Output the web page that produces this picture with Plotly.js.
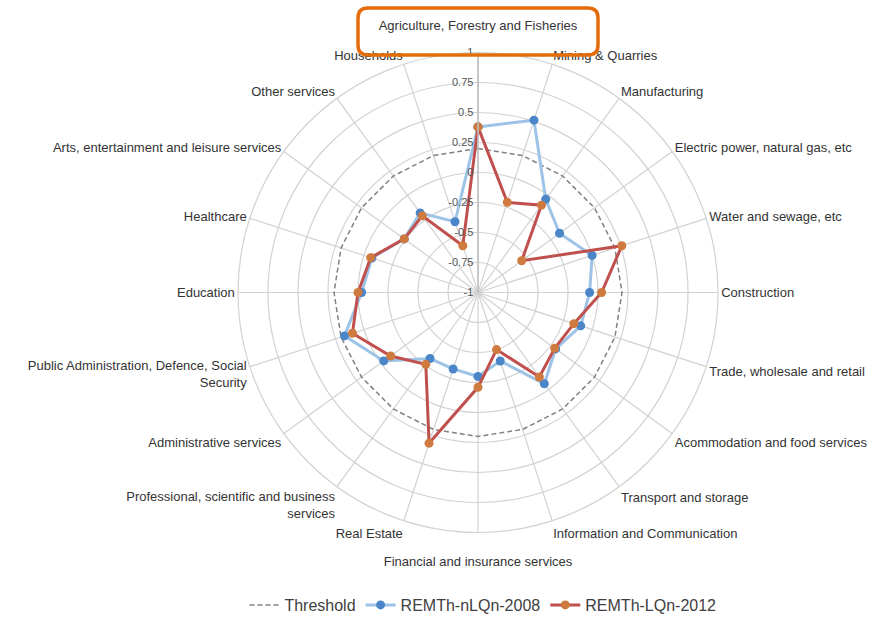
<!DOCTYPE html>
<html>
<head>
<meta charset="utf-8">
<script src="https://cdn.plot.ly/plotly-3.0.1.min.js"></script>
<style>html,body{margin:0;padding:0;background:#fff;}#chart{width:891px;height:622px;}</style>
</head>
<body>
<div id="chart"></div>
<script>
const categories = [
  "Agriculture, Forestry and Fisheries<br> ",
  "Mining & Quarries",
  "Manufacturing",
  "Electric power, natural gas, etc",
  "Water and sewage, etc",
  "Construction",
  "Trade, wholesale and retail",
  "Acommodation and food services",
  "Transport and storage",
  "Information and Communication",
  " <br>Financial and insurance services",
  "Real Estate",
  "Professional, scientific and business<br>services",
  "Administrative services",
  "Public Administration, Defence, Social<br>Security",
  "Education",
  "Healthcare",
  "Arts, entertainment and leisure services",
  "Other services",
  "Households"
];
const threshold = [0.2,0.2,0.2,0.2,0.2,0.2,0.2,0.2,0.2,0.2,0.2,0.2,0.2,0.2,0.2,0.2,0.2,0.2,0.2,0.2];
const nlqn2008 = [0.38,0.51,-0.04,-0.16,0.0,-0.07,-0.10,-0.20,-0.06,-0.40,-0.30,-0.33,-0.32,-0.03,0.17,-0.03,-0.07,-0.24,-0.18,-0.38];
const lqn2012  = [0.38,-0.21,-0.10,-0.55,0.26,0.03,-0.16,-0.21,-0.13,-0.50,-0.21,0.32,-0.26,-0.10,0.10,0.00,-0.06,-0.24,-0.21,-0.59];
const radialTicks = [-1,-0.75,-0.5,-0.25,0,0.25,0.5,0.75,1];
const radialTickText = ["-1","-0.75","-0.5","-0.25","0","0.25","0.5","0.75","1"];

function closeLoop(arr){ return arr.concat([arr[0]]); }

const traces = [
  {
    type: "scatterpolar", name: "Threshold", mode: "lines",
    r: closeLoop(threshold), theta: closeLoop(categories),
    line: {color: "#808080", width: 1.5, dash: "5px,3px"},
    hoverinfo: "skip"
  },
  {
    type: "scatterpolar", name: "REMTh-nLQn-2008", mode: "lines+markers",
    r: closeLoop(nlqn2008), theta: closeLoop(categories),
    line: {color: "#9dc3e6", width: 3},
    marker: {color: "#4a86c8", size: 9}
  },
  {
    type: "scatterpolar", name: "REMTh-LQn-2012", mode: "lines+markers",
    r: closeLoop(lqn2012), theta: closeLoop(categories),
    line: {color: "#c0504d", width: 3},
    marker: {color: "#cf7a3e", size: 9}
  }
];

const W = 891, H = 622;
const cx = 478, cy = 292.5, R = 240;
const bx0 = 358, bx1 = 598, by0 = 8, by1 = 55, rc = 10;
function px(x){ return x / W; }
function py(y){ return 1 - y / H; }
const boxPath =
  "M " + px(bx0 + rc) + "," + py(by0) +
  " L " + px(bx1 - rc) + "," + py(by0) +
  " Q " + px(bx1) + "," + py(by0) + " " + px(bx1) + "," + py(by0 + rc) +
  " L " + px(bx1) + "," + py(by1 - rc) +
  " Q " + px(bx1) + "," + py(by1) + " " + px(bx1 - rc) + "," + py(by1) +
  " L " + px(bx0 + rc) + "," + py(by1) +
  " Q " + px(bx0) + "," + py(by1) + " " + px(bx0) + "," + py(by1 - rc) +
  " L " + px(bx0) + "," + py(by0 + rc) +
  " Q " + px(bx0) + "," + py(by0) + " " + px(bx0 + rc) + "," + py(by0) + " Z";

const layout = {
  width: W, height: H,
  margin: {l: 0, r: 0, t: 0, b: 0},
  paper_bgcolor: "#ffffff",
  font: {family: "Liberation Sans, Arial, sans-serif", size: 13, color: "#333333"},
  showlegend: true,
  legend: {
    orientation: "h", x: 0.542, xanchor: "center", y: 0.0, yanchor: "bottom",
    font: {size: 16, color: "#404040"}, itemwidth: 30, bgcolor: "rgba(0,0,0,0)"
  },
  polar: {
    domain: {x: [px(cx - R), px(cx + R)], y: [py(cy + R), py(cy - R)]},
    bgcolor: "#ffffff",
    radialaxis: {
      range: [-1, 1], angle: 90, side: "counterclockwise", tickangle: 90,
      tickvals: radialTicks, ticktext: radialTickText,
      tickfont: {size: 11, color: "#555555"},
      showline: true, linecolor: "#bfbfbf", linewidth: 1.5,
      gridcolor: "#d2d2d2", gridwidth: 1.2, ticks: ""
    },
    angularaxis: {
      rotation: 90, direction: "clockwise",
      tickfont: {size: 13, color: "#333333"},
      showline: true, linecolor: "#d2d2d2", linewidth: 1.2,
      gridcolor: "#d2d2d2", gridwidth: 1.2, ticks: ""
    }
  },
  shapes: [
    {type: "path", xref: "paper", yref: "paper", path: boxPath,
     line: {color: "#e46c0a", width: 3.5}, fillcolor: "rgba(0,0,0,0)"}
  ]
};

Plotly.newPlot("chart", traces, layout, {displayModeBar: false, staticPlot: true});
</script>
</body>
</html>
